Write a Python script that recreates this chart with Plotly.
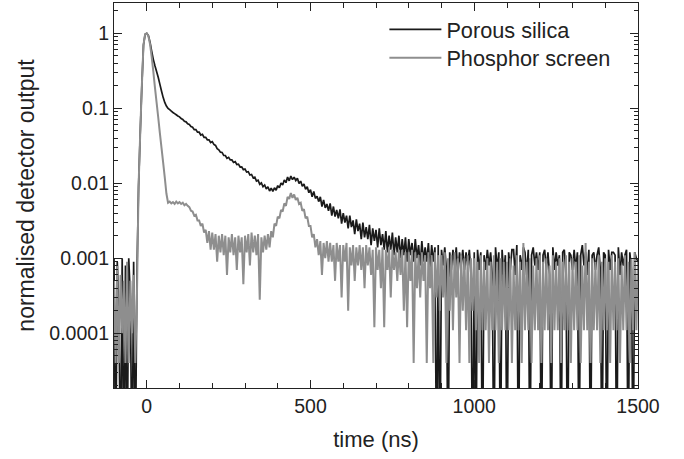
import numpy as np
import plotly.graph_objects as go

# sample times (ns): every 5 ns from -100 to 1500
time_ns = np.arange(-100, 1501, 5)

Z = 1e-6  # zero counts (falls below the axis)

porous_silica = [
    # -100 .. -5
    1e-3, Z, 9e-4, 2e-4, Z, 1e-3, Z, 8e-4, Z, 1e-3, 3e-4, Z, 9e-4, Z, 6e-4, 0.009, 0.046, 0.2, 0.7, 0.97,
    # 0 .. 95
    1.0, 0.93, 0.76, 0.58, 0.45, 0.37, 0.31, 0.26, 0.21, 0.17, 0.14, 0.12, 0.107, 0.1, 0.096, 0.092, 0.088, 0.085, 0.082, 0.079,
    # 100 .. 195
    0.077, 0.073, 0.071, 0.067, 0.066, 0.062, 0.061, 0.057, 0.056, 0.052, 0.052, 0.048, 0.048, 0.044, 0.045, 0.041, 0.041, 0.038, 0.038, 0.035,
    # 200 .. 295
    0.036, 0.033, 0.032, 0.029, 0.028, 0.026, 0.0258, 0.0236, 0.0235, 0.0215, 0.0222, 0.0205, 0.0205, 0.019, 0.0195, 0.0178, 0.0180, 0.0165, 0.0166, 0.0152,
    # 300 .. 395
    0.0155, 0.0141, 0.0143, 0.0129, 0.0131, 0.0118, 0.0121, 0.0107, 0.0110, 0.0097, 0.0101, 0.0090, 0.0095, 0.0084, 0.0090, 0.0079, 0.0086, 0.0078, 0.0087, 0.0081,
    # 400 .. 495
    0.0093, 0.0087, 0.0101, 0.0095, 0.0111, 0.0102, 0.0121, 0.0108, 0.0125, 0.0112, 0.0121, 0.0109, 0.0117, 0.0099, 0.0107, 0.0091, 0.0098, 0.0083, 0.0090, 0.0075,
    # 500 .. 595
    0.0082, 0.0066, 0.0078, 0.0063, 0.0067, 0.0057, 0.0066, 0.0049, 0.0060, 0.0047, 0.0053, 0.0043, 0.0054, 0.0037, 0.0049, 0.0036, 0.0044, 0.0034, 0.0045, 0.0029,
    # 600 .. 695
    0.0040, 0.0030, 0.0037, 0.0025, 0.0037, 0.0026, 0.0032, 0.0021, 0.0033, 0.0023, 0.0029, 0.0018, 0.0030, 0.0019, 0.0026, 0.0018, 0.0028, 0.0015, 0.0025, 0.0017,
    # 700 .. 795
    0.0024, 0.0014, 0.0025, 0.0015, 0.0021, 0.0013, 0.0023, 0.0012, 0.0020, 0.0013, 0.0022, 0.0011, 0.0019, 0.0012, 0.0020, 0.0010, 0.0018, 0.0011, 0.0019, 0.0009,
    # 800 .. 895
    0.0018, 0.0011, 0.0016, 0.0009, 0.0018, 0.0010, 0.0015, 0.0008, 0.0017, 0.0009, 0.0014, 0.0009, 0.0016, 0.0007, 0.0015, 0.0009, 0.0014, Z, 0.0015, Z,
    # 900 .. 995
    0.0013, 0.0008, 0.0014, 0.0007, Z, 0.0012, 0.0007, 0.0013, 0.0008, 0.0014, 0.0006, 0.0012, 0.0008, 0.0013, 0.0007, 0.0012, 0.0008, 0.0013, 0.0006, Z,
    # 1000 .. 1095
    0.0012, Z, 0.0013, 0.0007, 0.0012, Z, 0.0011, 0.0007, 0.0013, 0.0008, 0.0012, 0.0006, Z, 0.0014, 0.0007, 0.0012, Z, 0.0013, 0.0006, 0.0011,
    # 1100 .. 1195
    Z, 0.0012, 0.0007, 0.0013, 0.0013, 0.0006, 0.0015, Z, 0.0011, 0.0007, 0.0014, 0.0012, 0.0006, 0.0013, Z, 0.0011, 0.0014, 0.0008, 0.0012, 0.0007,
    # 1200 .. 1295
    0.0012, Z, 0.0011, 0.0013, 0.0007, 0.0012, 0.0006, Z, 0.0014, 0.0007, 0.0012, 0.0008, 0.0011, Z, 0.0012, 0.0013, 0.0006, Z, 0.0012, 0.0011,
    # 1300 .. 1395
    0.0007, 0.0013, 0.0007, 0.0012, Z, 0.0011, 0.0015, 0.0008, 0.0012, 0.0006, 0.0013, Z, 0.0011, 0.0012, 0.0007, 0.0011, 0.0014, 0.0007, Z, 0.0012,
    # 1400 .. 1495
    0.0011, Z, 0.0013, 0.0007, 0.0012, 0.0012, 0.0011, Z, 0.0014, 0.0006, 0.0012, 0.0008, 0.0011, 0.0013, Z, 0.0012, 0.0007, Z, 0.0012, 0.0010,
    # 1500
    0.0009,
]

phosphor_screen = [
    # -100 .. -5
    5e-4, 4e-5, 8e-4, 4e-5, 6e-4, 1e-4, 5e-4, 4e-5, 9e-4, 4e-5, 5e-4, 1e-4, 6e-4, 4e-5, 3e-4, 0.009, 0.046, 0.2, 0.7, 0.97,
    # 0 .. 95
    1.0, 0.92, 0.72, 0.49, 0.31, 0.19, 0.12, 0.076, 0.047, 0.030, 0.019, 0.012, 0.0073, 0.0055, 0.0057, 0.0054, 0.0056, 0.0053, 0.0057, 0.0054,
    # 100 .. 195
    0.0056, 0.0053, 0.0055, 0.0051, 0.0053, 0.0050, 0.0048, 0.0043, 0.0042, 0.0037, 0.0038, 0.0032, 0.0032, 0.0027, 0.0029, 0.0022, 0.0024, 0.0016, 0.0023, 0.0013,
    # 200 .. 295
    0.0022, 0.0013, 0.0021, 0.0009, 0.0020, 0.0012, 0.0021, 0.0011, 0.0020, 0.0006, 0.0019, 0.0012, 0.0021, 0.0011, 0.0019, 0.0007, 0.0020, 0.0012, 0.0019, 0.00045,
    # 300 .. 395
    0.0020, 0.0012, 0.0021, 0.0008, 0.0022, 0.0012, 0.0020, 0.0011, 0.0021, 0.00028, 0.0019, 0.0012, 0.0020, 0.0013, 0.0021, 0.0014, 0.0023, 0.0019, 0.0029, 0.0027,
    # 400 .. 495
    0.0036, 0.0034, 0.0044, 0.0042, 0.0054, 0.0050, 0.0066, 0.0062, 0.0074, 0.0064, 0.0071, 0.0060, 0.0064, 0.0053, 0.0055, 0.0043, 0.0045, 0.0034, 0.0036, 0.0027,
    # 500 .. 595
    0.0027, 0.0019, 0.0021, 0.0014, 0.0018, 0.0011, 0.0017, 0.0006, 0.0016, 0.0010, 0.0017, 0.0009, 0.0016, 0.0009, 0.0015, 0.0005, 0.0016, 0.0009, 0.0015, 0.0003,
    # 600 .. 695
    0.0015, 0.0009, 0.0016, 0.0002, 0.0014, 0.0008, 0.0015, 0.0005, 0.0014, 0.0008, 0.0015, 0.0007, 0.0014, 0.0004, 0.0015, 0.0008, 0.0014, 0.0006, 0.0013, 0.00012,
    # 700 .. 795
    0.0014, 0.0007, 0.0013, 0.0004, 0.0014, 0.00012, 0.0013, 0.0007, 0.0014, 0.0003, 0.0013, 0.0007, 0.0012, 0.0005, 0.0013, 0.0006, 0.0013, 0.0002, 0.0012, 0.00012,
    # 800 .. 895
    0.0012, 0.0005, 0.0013, 4e-5, 0.0012, 0.0004, 0.0011, 0.0003, 0.0012, 0.0005, 0.0011, 4e-5, 0.0012, 0.0004, 0.0011, 4e-5, 0.0012, 0.0003, 0.0011, 0.0002,
    # 900 .. 995
    0.0011, 0.0003, 0.0012, 4e-5, 0.0010, 0.0002, 0.0011, 0.00011, 0.0012, 0.0003, 0.0010, 4e-5, 0.0011, 0.0002, 0.0010, 0.00011, 0.0011, 4e-5, 0.0010, 0.0002,
    # 1000 .. 1095
    0.0010, 0.00011, 0.0009, 4e-5, 0.0011, 0.00011, 0.0009, 0.00011, 0.0010, 4e-5, 0.0009, 0.00011, 0.0011, 0.00011, 0.0009, 4e-5, 0.0010, 0.00011, 0.0009, 0.00011,
    # 1100 .. 1195
    0.0009, 0.00011, 0.0010, 4e-5, 0.0008, 0.00011, 0.0011, 0.00011, 0.0009, 4e-5, 0.0016, 0.00011, 0.0009, 0.00011, 0.0010, 4e-5, 0.0008, 0.00011, 0.0010, 0.00011,
    # 1200 .. 1295
    0.0011, 4e-5, 0.0009, 0.00011, 0.0010, 0.00011, 0.0008, 4e-5, 0.0011, 0.00011, 0.0009, 0.00011, 0.0010, 4e-5, 0.0009, 0.00011, 0.0011, 0.00011, 0.0009, 4e-5,
    # 1300 .. 1395
    0.0010, 0.00011, 0.0009, 0.00011, 0.0011, 4e-5, 0.0008, 0.00011, 0.0016, 0.00011, 0.0009, 4e-5, 0.0010, 0.00011, 0.0009, 0.00011, 0.0011, 4e-5, 0.0009, 0.00011,
    # 1400 .. 1495
    0.0010, 0.00011, 0.0009, 4e-5, 0.0011, 0.00011, 0.0009, 0.00011, 0.0010, 4e-5, 0.0008, 0.00011, 0.0011, 0.00011, 0.0009, 4e-5, 0.0010, 0.00011, 0.0012, 0.00011,
    # 1500
    0.0009,
]

series_names = ["Porous silica", "Phosphor screen"]
series_colors = ["#1a1a1a", "#8e8e8e"]
series_widths = [1.7, 2.0]
series_legends = ["legend", "legend2"]

y_tickvals = [1e-4, 1e-3, 1e-2, 1e-1, 1]
y_ticktext = ["0.0001", "0.001", "0.01", "0.1", "1"]
y_minor = [m * 10.0 ** e for e in range(-5, 1) for m in range(2, 10)]
x_tickvals = [0, 500, 1000, 1500]
x_minor = list(range(-100, 1501, 100))

FONT = "Liberation Sans, Arial, Helvetica, sans-serif"

fig = go.Figure()
for name, ys, col, w, leg in zip(series_names, [porous_silica, phosphor_screen],
                                 series_colors, series_widths, series_legends):
    fig.add_trace(go.Scatter(x=time_ns, y=ys, mode="lines", name=name, legend=leg,
                             line=dict(color=col, width=w, simplify=False)))

legend_style = dict(xanchor="left", yanchor="top", bgcolor="rgba(0,0,0,0)",
                    font=dict(size=21.7), itemwidth=52)
fig.update_layout(
    width=684, height=459,
    margin=dict(l=114, r=46, t=3, b=71),
    paper_bgcolor="white", plot_bgcolor="white",
    font=dict(family=FONT, size=19.5, color="#222"),
    showlegend=True,
    legend=dict(x=0.516, y=0.985, **legend_style),
    legend2=dict(x=0.516, y=0.911, **legend_style),
)
fig.update_xaxes(
    range=[-100, 1500], showline=True, linecolor="#222", linewidth=1.2, mirror="allticks",
    ticks="inside", ticklen=8, tickwidth=1, tickcolor="#222",
    tickvals=x_tickvals, ticktext=[str(v) for v in x_tickvals],
    minor=dict(ticks="inside", ticklen=5, tickvals=x_minor, tickcolor="#222", showgrid=False),
    showgrid=False, zeroline=False,
    title=dict(text="time (ns)", font=dict(size=22), standoff=16),
)
fig.update_yaxes(
    type="log", range=[np.log10(1.86e-5), np.log10(2.54)],
    showline=True, linecolor="#222", linewidth=1.2, mirror="allticks",
    ticks="inside", ticklen=8, tickwidth=1, tickcolor="#222",
    tickvals=y_tickvals, ticktext=y_ticktext,
    minor=dict(ticks="inside", ticklen=4, tickvals=y_minor, tickcolor="#222", showgrid=False),
    showgrid=False, zeroline=False,
    title=dict(text="normalised detector output", font=dict(size=23), standoff=8),
)

fig.write_html("out.html", config={"displayModeBar": False})
